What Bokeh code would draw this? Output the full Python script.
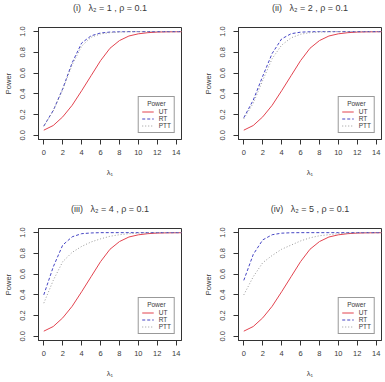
from bokeh.plotting import figure
from bokeh.layouts import gridplot
from bokeh.models import Range1d, FixedTicker, PrintfTickFormatter, Legend, LegendItem, Title
from bokeh.embed import file_html
from bokeh.resources import INLINE

# Non-centrality parameter lambda_1 on the x axis
lam1 = [0, 1, 2, 3, 4, 5, 6, 7, 8, 9, 10, 11, 12, 13, 14, 15]

# Unrestricted test (same in every panel)
ut = [0.05, 0.095, 0.178, 0.29, 0.43, 0.575, 0.72, 0.84, 0.914, 0.958, 0.979, 0.99, 0.996, 0.998, 0.999, 1.0]

# Restricted test, one list per lambda_2
rt_1 = [0.089, 0.24, 0.45, 0.70, 0.89, 0.96, 0.987, 0.996, 0.999, 1.0, 1.0, 1.0, 1.0, 1.0, 1.0, 1.0]
rt_2 = [0.17, 0.34, 0.57, 0.79, 0.93, 0.98, 0.995, 0.999, 1.0, 1.0, 1.0, 1.0, 1.0, 1.0, 1.0, 1.0]
rt_4 = [0.40, 0.67, 0.88, 0.96, 0.99, 0.997, 1.0, 1.0, 1.0, 1.0, 1.0, 1.0, 1.0, 1.0, 1.0, 1.0]
rt_5 = [0.54, 0.79, 0.93, 0.98, 0.995, 0.999, 1.0, 1.0, 1.0, 1.0, 1.0, 1.0, 1.0, 1.0, 1.0, 1.0]

# Pre-test test, one list per lambda_2
ptt_1 = [0.088, 0.235, 0.44, 0.68, 0.86, 0.946, 0.978, 0.99, 0.996, 0.999, 1.0, 1.0, 1.0, 1.0, 1.0, 1.0]
ptt_2 = [0.16, 0.31, 0.53, 0.74, 0.87, 0.94, 0.975, 0.99, 0.996, 0.999, 1.0, 1.0, 1.0, 1.0, 1.0, 1.0]
ptt_4 = [0.32, 0.54, 0.72, 0.81, 0.867, 0.91, 0.94, 0.965, 0.98, 0.99, 0.995, 0.998, 1.0, 1.0, 1.0, 1.0]
ptt_5 = [0.40, 0.575, 0.71, 0.78, 0.84, 0.88, 0.92, 0.95, 0.97, 0.98, 0.99, 0.995, 0.998, 1.0, 1.0, 1.0]

NB = "\u00a0"
titles = ["(i)" + NB * 3 + "\u03bb\u2082 = 1 , \u03c1 = 0.1",
          "(ii)" + NB * 3 + "\u03bb\u2082 = 2 , \u03c1 = 0.1",
          "(iii)" + NB * 3 + "\u03bb\u2082 = 4 , \u03c1 = 0.1",
          "(iv)" + NB * 3 + "\u03bb\u2082 = 5 , \u03c1 = 0.1"]
rt_series = [rt_1, rt_2, rt_4, rt_5]
ptt_series = [ptt_1, ptt_2, ptt_4, ptt_5]

x_ticks = [0, 2, 4, 6, 8, 10, 12, 14]
y_ticks = [0.0, 0.2, 0.4, 0.6, 0.8, 1.0]
legend_labels = ["UT", "RT", "PTT"]
legend_title = NB * 3 + "Power"

FONT = "Liberation Sans"
INK = "#333333"
TXT = "#3a3a3a"


def panel(idx, width, height, right_border, bottom_border):
    p = figure(width=width, height=height, output_backend="svg", toolbar_location=None,
               x_range=Range1d(-0.56, 14.56), y_range=Range1d(-0.04, 1.04),
               min_border_left=38, min_border_right=right_border,
               min_border_top=0, min_border_bottom=bottom_border,
               background_fill_color="white", border_fill_color="white")
    p.outline_line_color = INK
    p.outline_line_width = 1
    p.grid.visible = False
    p.title.text = ""
    p.title.visible = False

    # heading sits at the top of the band; the trailing empty line keeps a gap
    # between it and the plot box
    p.add_layout(Title(text=titles[idx] + "\n", align="center", vertical_align="top",
                       text_font=FONT, text_font_size="9px", text_font_style="normal",
                       text_color=TXT, standoff=5), "above")

    for ax in (p.xaxis[0], p.yaxis[0]):
        ax.axis_line_color = INK
        ax.major_tick_line_color = INK
        ax.minor_tick_line_color = None
        ax.major_tick_out = 5
        ax.major_tick_in = 0
        ax.major_label_text_font = FONT
        ax.major_label_text_font_size = "7.5px"
        ax.major_label_text_color = TXT
        ax.axis_label_text_font = FONT
        ax.axis_label_text_font_size = "7.5px"
        ax.axis_label_text_font_style = "normal"
        ax.axis_label_text_color = TXT

    p.xaxis[0].ticker = FixedTicker(ticks=x_ticks)
    p.xaxis[0].axis_label = "\u03bb\u2081"
    p.xaxis[0].major_label_standoff = 5
    p.xaxis[0].axis_label_standoff = 10

    p.yaxis[0].ticker = FixedTicker(ticks=y_ticks)
    p.yaxis[0].formatter = PrintfTickFormatter(format="%.1f")
    p.yaxis[0].major_label_orientation = "vertical"
    p.yaxis[0].axis_label = "Power"
    p.yaxis[0].major_label_standoff = 8
    p.yaxis[0].axis_label_standoff = 5

    r_ut = p.line(lam1, ut, line_color="#E2434F", line_width=1)
    r_rt = p.line(lam1, rt_series[idx], line_color="#4545C4", line_width=1, line_dash="3 2")
    r_ptt = p.line(lam1, ptt_series[idx], line_color="#9A9A9A", line_width=1, line_dash="1 2")

    legend = Legend(items=[LegendItem(label=legend_labels[0], renderers=[r_ut]),
                           LegendItem(label=legend_labels[1], renderers=[r_rt]),
                           LegendItem(label=legend_labels[2], renderers=[r_ptt])],
                    title=legend_title, location="bottom_right")
    legend.title_text_font = FONT
    legend.title_text_font_size = "6.5px"
    legend.title_text_font_style = "normal"
    legend.title_text_color = TXT
    legend.title_standoff = 1
    legend.label_text_font = FONT
    legend.label_text_font_size = "6.5px"
    legend.label_text_color = TXT
    legend.label_height = 7
    legend.label_width = 12
    legend.label_standoff = 5
    legend.glyph_width = 12
    legend.glyph_height = 7
    legend.spacing = 0
    legend.padding = 3
    legend.margin = 6
    legend.border_line_color = INK
    legend.border_line_width = 1
    legend.background_fill_alpha = 1.0
    p.add_layout(legend, "center")
    return p


p1 = panel(0, 200, 201, 19, 62)
p2 = panel(1, 185, 201, 4, 62)
p3 = panel(2, 200, 181, 19, 42)
p4 = panel(3, 185, 181, 4, 42)

grid = gridplot([[p1, p2], [p3, p4]], toolbar_location=None)

open("out.html", "w").write(file_html(grid, INLINE))
